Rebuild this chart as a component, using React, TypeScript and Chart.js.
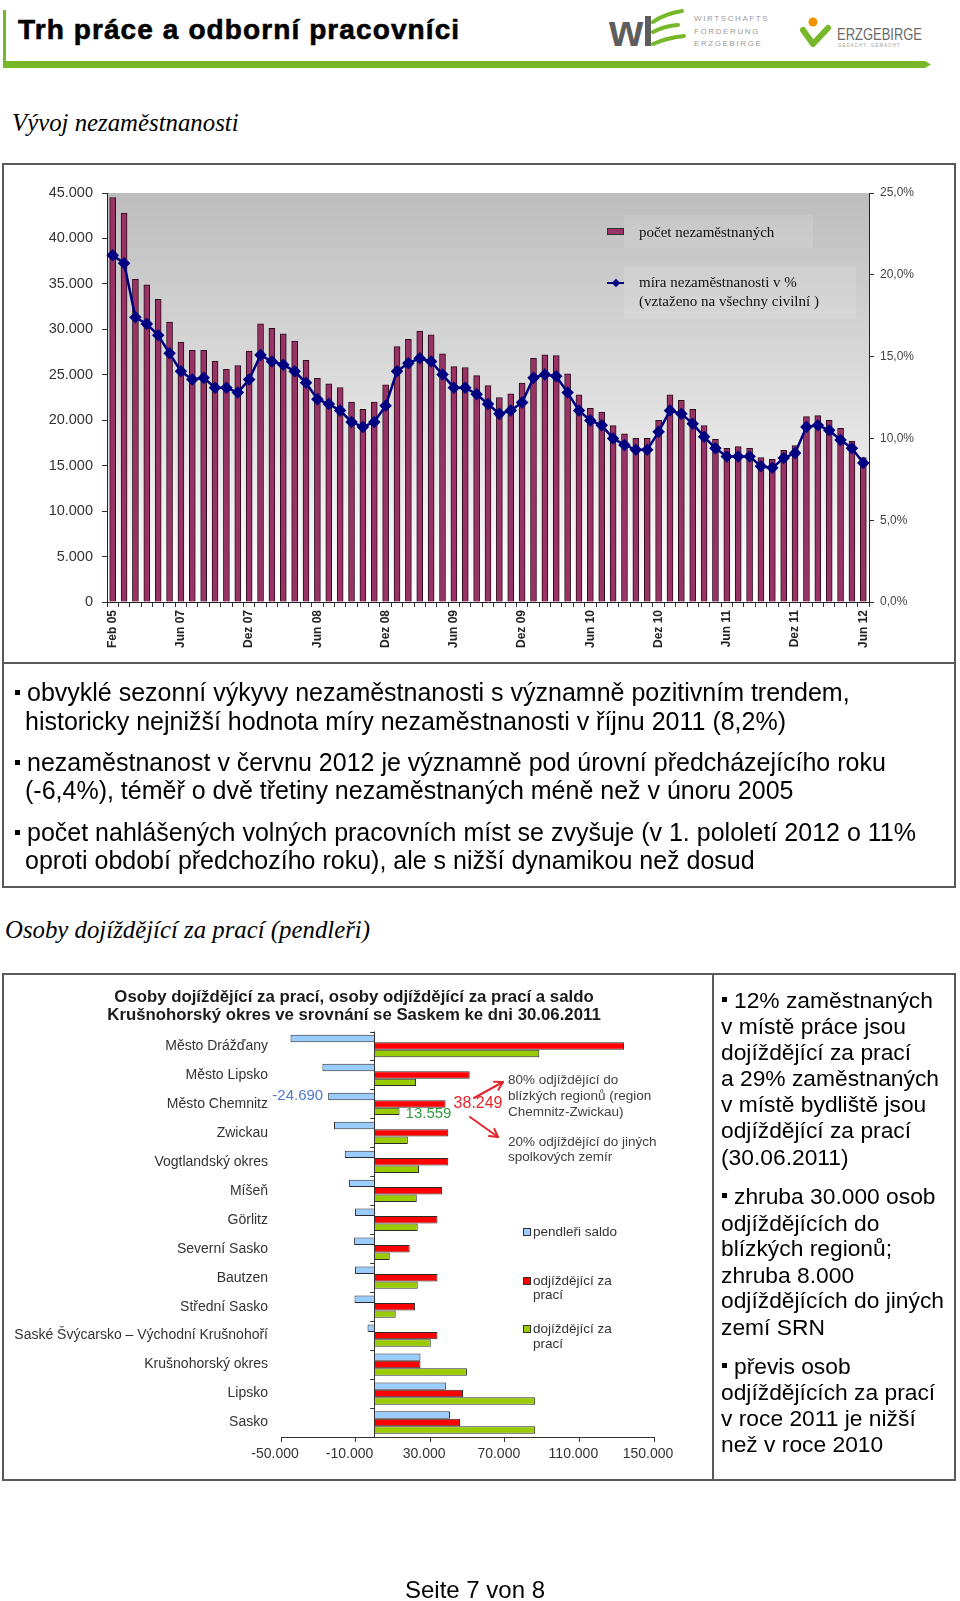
import React, { useEffect, useRef } from "react";
import { Chart, registerables } from "chart.js";

Chart.register(...registerables);

const SANS = "'Liberation Sans', Arial, Helvetica, sans-serif";
const NARROW = "'Liberation Sans Narrow', 'Liberation Sans', Arial, sans-serif";
const SERIF = "'Liberation Serif', 'Times New Roman', serif";

// ---------- Chart 1: Vývoj nezaměstnanosti ----------
const monthTicks = [
  "Feb 05", "", "", "", "", "",
  "Jun 07", "", "", "", "", "",
  "Dez 07", "", "", "", "", "",
  "Jun 08", "", "", "", "", "",
  "Dez 08", "", "", "", "", "",
  "Jun 09", "", "", "", "", "",
  "Dez 09", "", "", "", "", "",
  "Jun 10", "", "", "", "", "",
  "Dez 10", "", "", "", "", "",
  "Jun 11", "", "", "", "", "",
  "Dez 11", "", "", "", "", "",
  "Jun 12",
];

const unemployed = [
  44500, 42800, 35500, 34900, 33300, 30800, 28600, 27700, 27700, 26500,
  25600, 26000, 27600, 30600, 30100, 29500, 28700, 26600, 24600, 24000,
  23600, 22000, 21200, 22000, 23900, 28100, 28900, 29800, 29400, 27300,
  25900, 25800, 24900, 23800, 22500, 22900, 24100, 26800, 27200, 27100,
  25100, 22800, 21300, 20900, 19400, 18500, 18000, 18000, 20000, 22800,
  22200, 21200, 19400, 17900, 16900, 17100, 16900, 15900, 15700, 16700,
  17200, 20400, 20500, 20000, 19100, 17700, 15900,
];

const unemploymentRate = [
  21.2, 20.7, 17.4, 17.0, 16.3, 15.2, 14.1, 13.6, 13.7, 13.1,
  13.1, 12.8, 13.6, 15.1, 14.7, 14.5, 14.1, 13.4, 12.4, 12.1,
  11.7, 11.0, 10.7, 11.0, 12.0, 14.1, 14.6, 14.9, 14.7, 13.9,
  13.1, 13.1, 12.7, 12.1, 11.5, 11.7, 12.2, 13.7, 13.9, 13.8,
  12.8, 11.7, 11.1, 10.8, 10.0, 9.6, 9.3, 9.3, 10.4, 11.7,
  11.5, 10.9, 10.1, 9.4, 8.9, 8.9, 8.9, 8.3, 8.2, 8.8,
  9.1, 10.7, 10.8, 10.5, 9.9, 9.4, 8.5,
];

// ---------- Chart 2: Pendleři ----------
const regions = [
  "Město Drážďany",
  "Město Lipsko",
  "Město Chemnitz",
  "Zwickau",
  "Vogtlandský okres",
  "Míšeň",
  "Görlitz",
  "Severní Sasko",
  "Bautzen",
  "Střední Sasko",
  "Saské Švýcarsko – Východní Krušnohoří",
  "Krušnohorský okres",
  "Lipsko",
  "Sasko",
];
const commuterBalance = [-44900, -27800, -24690, -21600, -15800, -13500, -10300, -10800, -10300, -10600, -3600, 24800, 38400, 40600];
const outCommuters = [133900, 51200, 38249, 39700, 39700, 36400, 33900, 19000, 33900, 21900, 33900, 24800, 47600, 46000];
const inCommuters = [88500, 22400, 13559, 18000, 24000, 22800, 23300, 8300, 23300, 11500, 30300, 49700, 86300, 86300];
const commuterTicks = [-50000, -10000, 30000, 70000, 110000, 150000];
const highlightRegion = 2;

const fmt = (v: number) => {
  const s = Math.round(Math.abs(v)).toString().replace(/\B(?=(\d{3})+(?!\d))/g, ".");
  return (v < 0 ? "-" : "") + s;
};

const plotBackground = {
  id: "plotBackground",
  beforeDraw(chart: any) {
    const { ctx, chartArea: a } = chart;
    const g = ctx.createLinearGradient(0, a.top, 0, a.bottom);
    g.addColorStop(0, "#bdbdbd");
    g.addColorStop(1, "#ffffff");
    ctx.save();
    ctx.fillStyle = g;
    ctx.fillRect(a.left, a.top, a.right - a.left, a.bottom - a.top);
    ctx.restore();
  },
};

function UnemploymentChart() {
  const ref = useRef<HTMLCanvasElement>(null);
  useEffect(() => {
    const chart = new Chart(ref.current as HTMLCanvasElement, {
      type: "bar",
      data: {
        labels: monthTicks,
        datasets: [
          {
            type: "line",
            label: "míra nezaměstnanosti v %",
            data: unemploymentRate,
            yAxisID: "yR",
            borderColor: "#000080",
            backgroundColor: "#000080",
            borderWidth: 2.5,
            pointStyle: "rectRot",
            pointRadius: 4.5,
            pointBackgroundColor: "#000080",
            pointBorderColor: "#000080",
            tension: 0,
            order: 0,
          } as any,
          {
            type: "bar",
            label: "počet nezaměstnaných",
            data: unemployed,
            yAxisID: "yL",
            backgroundColor: "#993366",
            borderColor: "#2a0b1a",
            borderWidth: 1,
            barThickness: 6,
            order: 1,
          } as any,
        ],
      },
      options: {
        animation: false,
        responsive: false,
        maintainAspectRatio: false,
        layout: { padding: { top: 28, left: 0, right: 0, bottom: 0 } },
        plugins: { legend: { display: false }, tooltip: { enabled: false } },
        scales: {
          x: {
            offset: true,
            grid: { display: true, drawOnChartArea: false, drawTicks: true, tickLength: 5, color: "#333", offset: true },
            border: { display: true, color: "#222", width: 1 },
            ticks: {
              autoSkip: false,
              maxRotation: 90,
              minRotation: 90,
              padding: 3,
              color: "#222",
              font: { family: SANS, size: 12, weight: "bold" },
            },
            afterFit: (s: any) => { s.height = 61; },
          },
          yL: {
            position: "left",
            min: 0,
            max: 45000,
            grid: { drawOnChartArea: false, tickLength: 5, color: "#333" },
            border: { display: true, color: "#222" },
            ticks: {
              stepSize: 5000,
              padding: 9,
              color: "#333",
              font: { family: SANS, size: 14.5 },
              callback: (v: any) => fmt(Number(v)),
            },
            afterFit: (s: any) => { s.width = 103; },
          },
          yR: {
            position: "right",
            min: 0,
            max: 25,
            grid: { drawOnChartArea: false, tickLength: 5, color: "#333" },
            border: { display: true, color: "#222" },
            ticks: {
              stepSize: 5,
              padding: 6,
              color: "#444",
              font: { family: SANS, size: 12 },
              callback: (v: any) => Number(v).toFixed(1).replace(".", ",") + "%",
            },
            afterFit: (s: any) => { s.width = 85; },
          },
        } as any,
      },
      plugins: [plotBackground],
    });
    return () => chart.destroy();
  }, []);
  return (
    <canvas
      ref={ref}
      width={950}
      height={498}
      style={{ position: "absolute", left: 4, top: 165, width: 950, height: 498 }}
    />
  );
}

const zeroAxis = {
  id: "zeroAxis",
  afterDatasetsDraw(chart: any) {
    const { ctx, chartArea: a } = chart;
    const x0 = chart.scales.x.getPixelForValue(0);
    const n = chart.data.labels.length;
    const band = (a.bottom - a.top) / n;
    ctx.save();
    ctx.strokeStyle = "#333";
    ctx.lineWidth = 1;
    ctx.beginPath();
    ctx.moveTo(Math.round(x0) + 0.5, a.top);
    ctx.lineTo(Math.round(x0) + 0.5, a.bottom);
    for (let i = 0; i < n; i++) {
      const y = Math.round(a.top + i * band) + 0.5;
      ctx.moveTo(x0 - 4, y);
      ctx.lineTo(x0, y);
    }
    ctx.stroke();
    ctx.restore();
  },
};

const callouts = {
  id: "callouts",
  afterDatasetsDraw(chart: any) {
    const { ctx } = chart;
    const i = highlightRegion;
    const blue = chart.getDatasetMeta(0).data[i];
    const red = chart.getDatasetMeta(1).data[i];
    const green = chart.getDatasetMeta(2).data[i];
    ctx.save();
    ctx.textBaseline = "middle";
    ctx.font = `15px ${NARROW}`;
    ctx.textAlign = "right";
    ctx.fillStyle = "#4f78cc";
    ctx.fillText(fmt(commuterBalance[i]), blue.x - 5, blue.y - 1);
    ctx.textAlign = "left";
    ctx.font = `16px ${NARROW}`;
    ctx.fillStyle = "#e3262b";
    ctx.fillText(fmt(outCommuters[i]), red.x + 8, red.y);
    ctx.font = `15px ${NARROW}`;
    ctx.fillStyle = "#2f9a3c";
    ctx.fillText(fmt(inCommuters[i]), green.x + 6, green.y + 3);
    ctx.restore();
  },
};

function CommuterChart() {
  const ref = useRef<HTMLCanvasElement>(null);
  useEffect(() => {
    const chart = new Chart(ref.current as HTMLCanvasElement, {
      type: "bar",
      data: {
        labels: regions,
        datasets: [
          { label: "pendleři saldo", data: commuterBalance, backgroundColor: "#99ccff", borderColor: "#2b2b2b", borderWidth: 1 },
          { label: "odjíždějící za prací", data: outCommuters, backgroundColor: "#ff0000", borderColor: "#2b2b2b", borderWidth: 1 },
          { label: "dojíždějící za prací", data: inCommuters, backgroundColor: "#99cc00", borderColor: "#2b2b2b", borderWidth: 1 },
        ],
      },
      options: {
        indexAxis: "y",
        animation: false,
        responsive: false,
        maintainAspectRatio: false,
        datasets: { bar: { categoryPercentage: 0.77, barPercentage: 1 } },
        layout: { padding: { top: 56.5, right: 58, left: 0, bottom: 0 } },
        plugins: { legend: { display: false }, tooltip: { enabled: false } },
        scales: {
          x: {
            min: -50000,
            max: 150000,
            afterBuildTicks: (s: any) => { s.ticks = commuterTicks.map((v) => ({ value: v })); },
            grid: { display: true, drawOnChartArea: false, drawTicks: true, tickLength: 5, color: "#333" },
            border: { display: true, color: "#333" },
            ticks: {
              padding: 4,
              labelOffset: -6,
              color: "#333",
              font: { family: NARROW, size: 14 },
              callback: (v: any) => fmt(Number(v)),
            },
            afterFit: (s: any) => { s.height = 42; },
          },
          y: {
            grid: { display: false, drawTicks: false },
            border: { display: false },
            ticks: { autoSkip: false, padding: 13, color: "#333", font: { family: SANS, size: 14 } },
            afterFit: (s: any) => { s.width = 277; },
          },
        } as any,
      },
      plugins: [zeroAxis, callouts],
    });
    return () => chart.destroy();
  }, []);
  return (
    <canvas
      ref={ref}
      width={708}
      height={504}
      style={{ position: "absolute", left: 4, top: 975, width: 708, height: 504 }}
    />
  );
}

const abs = (s: React.CSSProperties): React.CSSProperties => ({ position: "absolute", ...s });

function Line({ x, c, size, lh, text, bullet, family, style, color, weight, ls }: any) {
  return (
    <div
      style={abs({
        left: x,
        top: c - lh / 2,
        height: lh,
        lineHeight: lh + "px",
        fontSize: size,
        fontFamily: family || SANS,
        fontStyle: style || "normal",
        fontWeight: weight || "normal",
        color: color || "#000",
        whiteSpace: "nowrap",
        letterSpacing: ls || 0,
      })}
    >
      {bullet ? (
        <span style={{ display: "inline-block", width: 5, height: 5, background: "#000", verticalAlign: "middle", marginRight: bullet, position: "relative", top: -2 }} />
      ) : null}
      {text}
    </div>
  );
}

const topBullets: [number, number, string, number][] = [
  [15, 692, "obvyklé sezonní výkyvy nezaměstnanosti s významně pozitivním trendem,", 7],
  [25, 721, "historicky nejnižší hodnota míry nezaměstnanosti v říjnu 2011 (8,2%)", 0],
  [15, 762, "nezaměstnanost v červnu 2012 je významně pod úrovní předcházejícího roku", 7],
  [25, 789.5, "(-6,4%), téměř o dvě třetiny nezaměstnaných méně než v únoru 2005", 0],
  [15, 832, "počet nahlášených volných pracovních míst se zvyšuje (v 1. pololetí 2012 o 11%", 7],
  [25, 860, "oproti období předchozího roku), ale s nižší dynamikou než dosud", 0],
];

const sideText: [number, number, string, number][] = [
  [722, 1000, "12% zaměstnaných", 7],
  [721, 1026, "v místě práce jsou", 0],
  [721, 1052, "dojíždějící za prací", 0],
  [721, 1078, "a 29% zaměstnaných", 0],
  [721, 1104, "v místě bydliště jsou", 0],
  [721, 1130, "odjíždějící za prací", 0],
  [721, 1157, "(30.06.2011)", 0],
  [722, 1196, "zhruba 30.000 osob", 7],
  [721, 1222.5, "odjíždějících do", 0],
  [721, 1248, "blízkých regionů;", 0],
  [721, 1274.5, "zhruba 8.000", 0],
  [721, 1300, "odjíždějících do jiných", 0],
  [721, 1327, "zemí SRN", 0],
  [722, 1365.5, "převis osob", 7],
  [721, 1392, "odjíždějících za prací", 0],
  [721, 1417.5, "v roce 2011 je nižší", 0],
  [721, 1444, "než v roce 2010", 0],
];

const annotations: [number, string][] = [
  [1080, "80% odjíždějící  do"],
  [1096, "blízkých regionů  (region"],
  [1112, "Chemnitz-Zwickau)"],
  [1142, "20% odjíždějící  do jiných"],
  [1157, "spolkových  zemír"],
];

export default function App() {
  const green = "#76b82a";
  return (
    <div style={abs({ left: 0, top: 0, width: 960, height: 1601, overflow: "hidden", background: "#fff", fontFamily: SANS, color: "#000" })}>
      {/* Header */}
      <div style={abs({ left: 3, top: 10, width: 3, height: 58, background: green })} />
      <svg style={abs({ left: 0, top: 0 })} width={960} height={80}>
        <polygon points="3,61 925,61 931,64.5 925,68 3,68" fill={green} />
        {/* wfe logo */}
        <text x={609} y={46} fontFamily={SANS} fontWeight={900} fontSize={44} fill="#5d5d5d" letterSpacing={-2}>w</text>
        <path d="M648 16 L648 46" stroke="#5d5d5d" strokeWidth={6} />
        <path d="M653 22 Q 664 14 682 11" stroke={green} strokeWidth={4} fill="none" strokeLinecap="round" />
        <path d="M653 32 Q 664 26 678 25" stroke={green} strokeWidth={4} fill="none" strokeLinecap="round" />
        <path d="M653 44 Q 666 38 684 36" stroke={green} strokeWidth={4} fill="none" strokeLinecap="round" />
        <text x={694} y={21} fontFamily={SANS} fontSize={8} fill="#9a9a9a" letterSpacing={1.6}>WIRTSCHAFTS</text>
        <text x={694} y={34} fontFamily={SANS} fontSize={8} fill="#9a9a9a" letterSpacing={1.6}>FÖRDERUNG</text>
        <text x={694} y={46} fontFamily={SANS} fontSize={8} fill="#9a9a9a" letterSpacing={1.6}>ERZGEBIRGE</text>
        {/* Erzgebirge logo */}
        <circle cx={813} cy={22} r={4.5} fill="#f39200" />
        <path d="M803 30 L813 44 L828 28" stroke={green} strokeWidth={6} fill="none" strokeLinecap="round" strokeLinejoin="round" />
        <text x={837} y={40} fontFamily={NARROW} fontSize={17} fill="#6a6a6a" textLength={85} lengthAdjust="spacingAndGlyphs">ERZGEBIRGE</text>
        <text x={838} y={47} fontFamily={SANS} fontSize={4.5} fill="#9a9a9a" letterSpacing={1}>GEDACHT. GEMACHT.</text>
      </svg>
      <div style={abs({ left: 18, top: 12, lineHeight: "35px", fontSize: 28, fontWeight: "bold", letterSpacing: 1.1, WebkitTextStroke: "0.6px #000", whiteSpace: "nowrap" })}>
        Trh práce a odborní pracovníci
      </div>

      <Line x={12} c={122.6} size={24.8} lh={28} text="Vývoj nezaměstnanosti" family={SERIF} style="italic" />

      {/* Top chart box */}
      <div style={abs({ left: 2, top: 163, width: 954, height: 501, border: "2px solid #5a5a5a", boxSizing: "border-box" })} />
      <UnemploymentChart />
      {/* top legend */}
      <div style={abs({ left: 624, top: 215, width: 189, height: 33, background: "rgba(255,255,255,0.12)" })} />
      <div style={abs({ left: 624, top: 266, width: 232, height: 52, background: "rgba(255,255,255,0.12)" })} />
      <div style={abs({ left: 607, top: 228, width: 17, height: 7, background: "#993366", border: "1px solid #333", boxSizing: "border-box" })} />
      <div style={abs({ left: 607, top: 282, width: 17, height: 2, background: "#000080" })} />
      <div style={abs({ left: 612.5, top: 279.5, width: 6, height: 6, background: "#000080", transform: "rotate(45deg)" })} />
      <Line x={639} c={232} size={15} lh={18} text="počet nezaměstnaných" family={SERIF} color="#111" />
      <Line x={639} c={282} size={15} lh={18} text="míra nezaměstnanosti v %" family={SERIF} color="#111" />
      <Line x={639} c={301} size={15} lh={18} text="(vztaženo na všechny civilní )" family={SERIF} color="#111" />

      {/* Bullets box */}
      <div style={abs({ left: 2, top: 662, width: 954, height: 226, border: "2px solid #5a5a5a", boxSizing: "border-box" })} />
      {topBullets.map(([x, c, t, b], i) => (
        <Line key={i} x={x} c={c} size={25} lh={28} text={t} bullet={b} />
      ))}

      <Line x={5} c={930} size={24.8} lh={28} text="Osoby dojíždějící za prací (pendleři)" family={SERIF} style="italic" />

      {/* Bottom box */}
      <div style={abs({ left: 2, top: 973, width: 954, height: 508, border: "2px solid #5a5a5a", boxSizing: "border-box" })} />
      <div style={abs({ left: 712, top: 973, width: 2, height: 508, background: "#5a5a5a" })} />
      <CommuterChart />
      <div style={abs({ left: 4, top: 988, width: 700, textAlign: "center", fontSize: 16.8, fontWeight: "bold", lineHeight: "18px", color: "#1a1a1a", whiteSpace: "nowrap" })}>
        Osoby dojíždějící za prací, osoby odjíždějící za prací a saldo
        <br />
        Krušnohorský okres ve srovnání se Saskem ke dni 30.06.2011
      </div>
      {annotations.map(([c, t], i) => (
        <Line key={i} x={508} c={c} size={13.5} lh={16} text={t} color="#404040" family={NARROW} />
      ))}
      <svg style={abs({ left: 0, top: 0, pointerEvents: "none" })} width={960} height={1601}>
        <g stroke="#e3262b" strokeWidth={2} fill="none" strokeLinecap="round" strokeLinejoin="round">
          <line x1={474} y1={1098} x2={503} y2={1082} />
          <polyline points="494,1081.8 503,1082 498.3,1089.7" />
          <line x1={470} y1={1117} x2={498} y2={1137} />
          <polyline points="494.3,1128.8 498,1137 489,1136.1" />
        </g>
      </svg>
      {/* bottom legend */}
      <div style={abs({ left: 523, top: 1228, width: 6, height: 6, background: "#99ccff", border: "1px solid #333" })} />
      <Line x={533} c={1231} size={13.5} lh={15} text="pendleři saldo" color="#333" family={NARROW} />
      <div style={abs({ left: 523, top: 1277, width: 6, height: 6, background: "#ff0000", border: "1px solid #333" })} />
      <Line x={533} c={1280} size={13.5} lh={15} text="odjíždějící za" color="#333" family={NARROW} />
      <Line x={533} c={1294.5} size={13.5} lh={15} text="prací" color="#333" family={NARROW} />
      <div style={abs({ left: 523, top: 1325, width: 6, height: 6, background: "#99cc00", border: "1px solid #333" })} />
      <Line x={533} c={1328} size={13.5} lh={15} text="dojíždějící za" color="#333" family={NARROW} />
      <Line x={533} c={1343} size={13.5} lh={15} text="prací" color="#333" family={NARROW} />

      {sideText.map(([x, c, t, b], i) => (
        <Line key={i} x={x} c={c} size={22.8} lh={26} text={t} bullet={b} />
      ))}

      <div style={abs({ left: 375, top: 1576, width: 200, textAlign: "center", fontSize: 24, lineHeight: "28px" })}>Seite 7 von 8</div>
    </div>
  );
}
